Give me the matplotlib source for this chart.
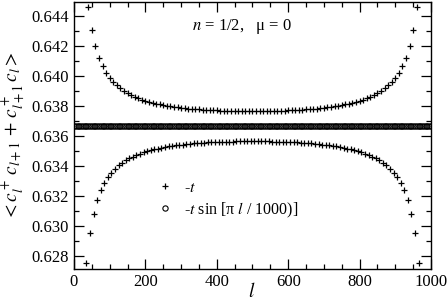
import numpy as np
import matplotlib
matplotlib.use("Agg")
import matplotlib.pyplot as plt
from matplotlib.ticker import MultipleLocator

# bond expectation values
# upper branch (even sites, every 10)
sites_up = [40, 50, 60, 70, 80, 90, 100, 110, 120, 130, 140, 150, 160, 170, 180, 190,
            200, 210, 220, 230, 240, 250, 260, 270, 280, 290, 300, 310, 320, 330, 340,
            350, 360, 370, 380, 390, 400, 410, 420, 430, 440, 450, 460, 470, 480, 490,
            500, 510, 520, 530, 540, 550, 560, 570, 580, 590, 600, 610, 620, 630, 640,
            650, 660, 670, 680, 690, 700, 710, 720, 730, 740, 750, 760, 770, 780, 790,
            800, 810, 820, 830, 840, 850, 860, 870, 880, 890, 900, 910, 920, 930, 940,
            950, 960]
bond_up = [0.64460, 0.64301, 0.64196, 0.64120, 0.64064, 0.64020, 0.63986, 0.63957,
           0.63934, 0.63914, 0.63897, 0.63882, 0.63870, 0.63858, 0.63849, 0.63840,
           0.63832, 0.63825, 0.63819, 0.63813, 0.63808, 0.63803, 0.63799, 0.63795,
           0.63792, 0.63789, 0.63786, 0.63783, 0.63780, 0.63778, 0.63776, 0.63774,
           0.63773, 0.63771, 0.63770, 0.63768, 0.63767, 0.63766, 0.63765, 0.63765,
           0.63764, 0.63763, 0.63763, 0.63762, 0.63762, 0.63762, 0.63762, 0.63762,
           0.63762, 0.63762, 0.63763, 0.63763, 0.63764, 0.63765, 0.63765, 0.63766,
           0.63767, 0.63768, 0.63770, 0.63771, 0.63773, 0.63774, 0.63776, 0.63778,
           0.63780, 0.63783, 0.63786, 0.63789, 0.63792, 0.63795, 0.63799, 0.63803,
           0.63808, 0.63813, 0.63819, 0.63825, 0.63832, 0.63840, 0.63849, 0.63858,
           0.63870, 0.63882, 0.63897, 0.63914, 0.63934, 0.63957, 0.63986, 0.64020,
           0.64064, 0.64120, 0.64196, 0.64301, 0.64460]

# lower branch (odd sites, every 10)
sites_dn = [35, 45, 55, 65, 75, 85, 95, 105, 115, 125, 135, 145, 155, 165, 175, 185,
            195, 205, 215, 225, 235, 245, 255, 265, 275, 285, 295, 305, 315, 325, 335,
            345, 355, 365, 375, 385, 395, 405, 415, 425, 435, 445, 455, 465, 475, 485,
            495, 505, 515, 525, 535, 545, 555, 565, 575, 585, 595, 605, 615, 625, 635,
            645, 655, 665, 675, 685, 695, 705, 715, 725, 735, 745, 755, 765, 775, 785,
            795, 805, 815, 825, 835, 845, 855, 865, 875, 885, 895, 905, 915, 925, 935,
            945, 955, 965]
bond_dn = [0.62751, 0.62952, 0.63080, 0.63169, 0.63234, 0.63283, 0.63322, 0.63353,
           0.63379, 0.63401, 0.63419, 0.63435, 0.63448, 0.63460, 0.63471, 0.63480,
           0.63488, 0.63495, 0.63502, 0.63508, 0.63513, 0.63518, 0.63523, 0.63527,
           0.63531, 0.63534, 0.63537, 0.63540, 0.63542, 0.63545, 0.63547, 0.63549,
           0.63551, 0.63552, 0.63554, 0.63555, 0.63556, 0.63557, 0.63558, 0.63559,
           0.63560, 0.63560, 0.63561, 0.63561, 0.63562, 0.63562, 0.63562, 0.63562,
           0.63562, 0.63562, 0.63561, 0.63561, 0.63560, 0.63560, 0.63559, 0.63558,
           0.63557, 0.63556, 0.63555, 0.63554, 0.63552, 0.63551, 0.63549, 0.63547,
           0.63545, 0.63542, 0.63540, 0.63537, 0.63534, 0.63531, 0.63527, 0.63523,
           0.63518, 0.63513, 0.63508, 0.63502, 0.63495, 0.63488, 0.63480, 0.63471,
           0.63460, 0.63448, 0.63435, 0.63419, 0.63401, 0.63379, 0.63353, 0.63322,
           0.63283, 0.63234, 0.63169, 0.63080, 0.62952, 0.62751]

# sine-deformed hopping: flat value 2/pi
sites_sin = np.arange(0, 1001, 5)
bond_sin_value = 0.63662

plt.rcParams['font.family'] = 'serif'
plt.rcParams['font.serif'] = ['Liberation Serif', 'DejaVu Serif']
plt.rcParams['mathtext.fontset'] = 'stix'


def plot_bonds(fname):
    fig = plt.figure(figsize=(4.47, 3.04), dpi=100)
    ax = fig.add_axes([0.1655, 0.1151, 0.7987, 0.8783])

    # -t  (uniform hopping)
    ax.plot(sites_up, bond_up, ls='none', marker='+', ms=5, mew=0.9,
            color='black', label='-$t$')
    ax.plot(sites_dn, bond_dn, ls='none', marker='+', ms=5, mew=0.9,
            color='black')
    # -t sin(pi l / 1000)
    ax.plot(sites_sin, np.full(len(sites_sin), bond_sin_value), ls='none',
            marker='o', ms=3.8, mew=0.8, mfc='none', mec='black',
            label='-$t$ sin [\u03c0 $l$ / 1000)]')

    ax.set_xlim(0, 1000)
    ax.set_ylim(0.6271, 0.6449)

    ax.xaxis.set_major_locator(MultipleLocator(200))
    ax.xaxis.set_minor_locator(MultipleLocator(50))
    ax.yaxis.set_major_locator(MultipleLocator(0.002))
    ax.yaxis.set_minor_locator(MultipleLocator(0.001))
    ax.yaxis.set_major_formatter(plt.FormatStrFormatter('%.3f'))

    ax.tick_params(which='both', direction='in', top=True, right=True,
                   labelsize=12, width=0.9)
    ax.tick_params(which='major', length=7)
    ax.tick_params(which='minor', length=3.5)
    for sp in ax.spines.values():
        sp.set_linewidth(1.0)

    ax.set_xlabel('$l$', fontsize=14)
    ax.xaxis.set_label_coords(0.498, -0.05)
    ax.set_ylabel(r'$<c_l^+\, c_{l+1}\, +\, c_{l+1}^+\, c_l>$', fontsize=14,
                  labelpad=3)

    ax.text(330, 0.64327, '$n$ = 1/2,   \u03bc = 0',
            fontsize=12, ha='left', va='center')

    ax.legend(loc='lower left', bbox_to_anchor=(0.205, 0.155), frameon=False,
              fontsize=11.5, handlelength=1.2, handletextpad=0.6,
              labelspacing=0.3, borderpad=0, markerscale=1.0)

    fig.savefig(fname, dpi=100)
    plt.close(fig)


if __name__ == "__main__":
    plot_bonds("out.png")
